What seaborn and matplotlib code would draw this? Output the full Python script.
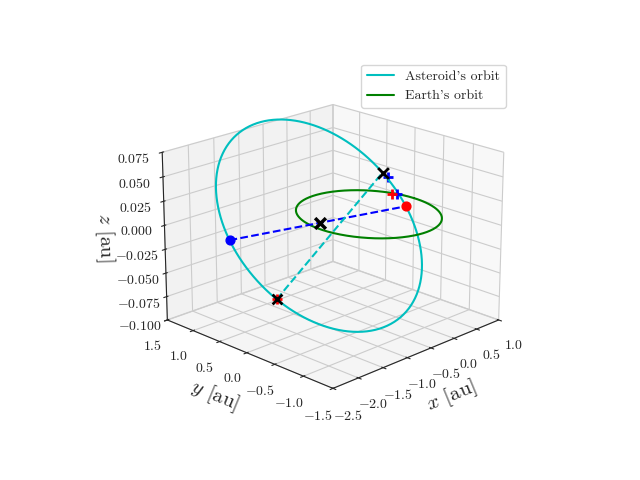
import numpy as np
import matplotlib
matplotlib.use("Agg")
import matplotlib.pyplot as plt
import seaborn as sns

sns.set_style("white")
plt.rcParams.update({
    "font.family": "serif",
    "font.serif": ["cmr10"],
    "mathtext.fontset": "cm",
    "axes.formatter.use_mathtext": True,
    "axes.unicode_minus": True,
})

# orbital elements of the asteroid
a_ast = 1.48
e_ast = 0.56
inc_deg = 3.8
omega_deg = 0.0
node_deg = -13.0

# eccentric anomalies [deg] of the two marked orbit points (cyan dashed line)
E_marked = [20.0, 215.0]

# Earth orbit radius
r_earth = 1.0

# extra marked points (x, y, z) in au
earth_plus_red = ([0.25], [-0.20], [0.02])
earth_plus_blue = ([0.31], [-0.25], [0.02])
blue_plus_shift = [0.05, -0.05, -0.005]


def orbit_xyz(E):
    # position from eccentric anomaly
    xp = a_ast * (np.cos(E) - e_ast)
    yp = a_ast * np.sqrt(1 - e_ast**2) * np.sin(E)
    i, w, O = np.radians([inc_deg, omega_deg, node_deg])
    x1 = xp * np.cos(w) - yp * np.sin(w)
    y1 = xp * np.sin(w) + yp * np.cos(w)
    x = x1 * np.cos(O) - y1 * np.cos(i) * np.sin(O)
    y = x1 * np.sin(O) + y1 * np.cos(i) * np.cos(O)
    z = y1 * np.sin(i)
    return x, y, z


E = np.linspace(0, 2 * np.pi, 400)
ax_, ay_, az_ = orbit_xyz(E)
th = np.linspace(0, 2 * np.pi, 400)
ex, ey, ez = r_earth * np.cos(th), r_earth * np.sin(th), np.zeros_like(th)

peri = orbit_xyz(np.array([0.0]))
apo = orbit_xyz(np.array([np.pi]))
top_pt = orbit_xyz(np.radians([E_marked[0]]))
low_pt = orbit_xyz(np.radians([E_marked[1]]))
centre = [(p + q) / 2 for p, q in zip(peri, apo)]
top_plus = [c + d for c, d in zip(top_pt, blue_plus_shift)]

fig = plt.figure(figsize=(6.4, 4.8), dpi=100)
ax = fig.add_subplot(projection="3d")
ax.plot(ax_, ay_, az_, color="c", label="Asteroid's orbit")
ax.plot(ex, ey, ez, color="g", label="Earth's orbit")

ax.plot([apo[0][0], peri[0][0]], [apo[1][0], peri[1][0]], [apo[2][0], peri[2][0]],
        "b--")
ax.plot([low_pt[0][0], top_pt[0][0]], [low_pt[1][0], top_pt[1][0]],
        [low_pt[2][0], top_pt[2][0]], "c--")

ax.scatter(*apo, color="b", s=40, depthshade=False)
ax.scatter(*peri, color="r", s=40, depthshade=False)
ax.scatter(*centre, color="k", marker="x", s=60, linewidths=2.5, depthshade=False)
ax.scatter(*low_pt, color="r", marker="+", s=60, linewidths=2, depthshade=False)
ax.scatter(*low_pt, color="k", marker="x", s=50, linewidths=2, depthshade=False)
ax.scatter(*top_pt, color="k", marker="x", s=60, linewidths=2, depthshade=False)
ax.scatter(*top_plus, color="b", marker="+", s=60, linewidths=2, depthshade=False)
ax.scatter(*earth_plus_red, color="r", marker="+", s=60, linewidths=2, depthshade=False)
ax.scatter(*earth_plus_blue, color="b", marker="+", s=60, linewidths=2, depthshade=False)

ax.set_xlim(-2.5, 1.0)
ax.set_ylim(-1.5, 1.5)
ax.set_zlim(-0.1, 0.075)
ax.set_xticks([-2.5, -2.0, -1.5, -1.0, -0.5, 0.0, 0.5, 1.0])
ax.set_yticks([-1.5, -1.0, -0.5, 0.0, 0.5, 1.0, 1.5])
ax.set_zticks([-0.1, -0.075, -0.05, -0.025, 0.0, 0.025, 0.05, 0.075])
ax.set_xlabel(r"$x$ [au]", fontsize=15)
ax.set_ylabel(r"$y$ [au]", fontsize=15)
ax.set_zlabel(r"$z$ [au]", fontsize=15)
ax.view_init(elev=20, azim=-135)
ax.legend(loc="upper right")
fig.savefig("out.png", dpi=100)
